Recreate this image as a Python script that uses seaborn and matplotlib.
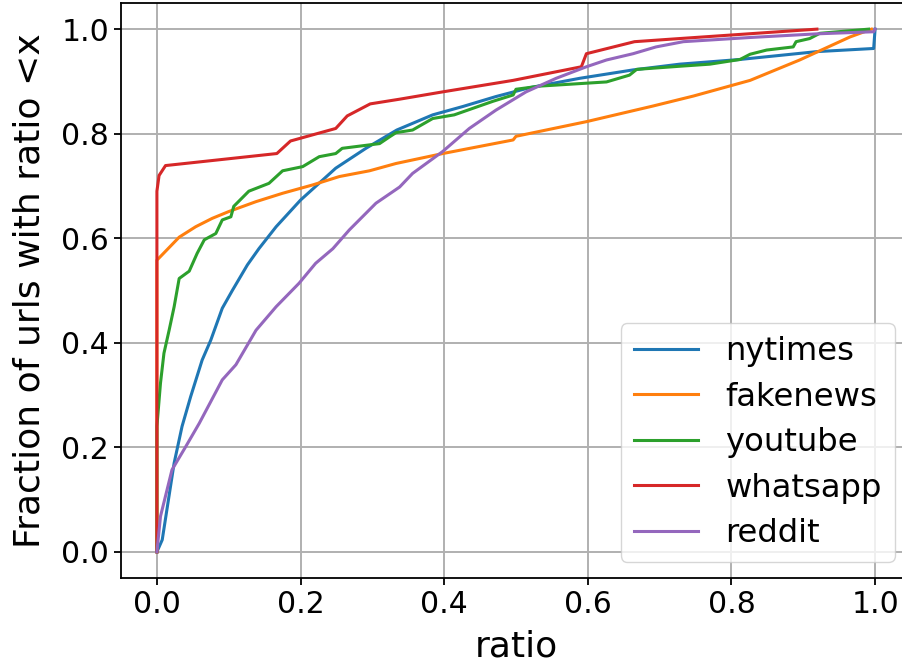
import pandas as pd
import numpy as np
import matplotlib
matplotlib.use("Agg")
import matplotlib.pyplot as plt
import seaborn as sns

# CDF points
nytimes_x = [0.0, 0.0074, 0.024, 0.035, 0.047, 0.063, 0.075, 0.091, 0.105, 0.126, 0.142,
             0.166, 0.200, 0.249, 0.291, 0.334, 0.384, 0.426, 0.472, 0.519, 0.589, 0.663,
             0.728, 0.812, 0.919, 0.998, 1.0]
nytimes_y = [0.0, 0.023, 0.170, 0.240, 0.297, 0.367, 0.405, 0.466, 0.500, 0.549, 0.580,
             0.622, 0.673, 0.734, 0.772, 0.807, 0.836, 0.852, 0.871, 0.888, 0.906, 0.922,
             0.933, 0.942, 0.957, 0.963, 1.0]

fakenews_x = [0.0, 0.0, 0.031, 0.054, 0.077, 0.100, 0.138, 0.175, 0.217, 0.254, 0.296, 0.333,
              0.398, 0.496, 0.500, 0.598, 0.691, 0.747, 0.826, 0.895, 0.965, 0.995]
fakenews_y = [0.0, 0.558, 0.602, 0.622, 0.638, 0.651, 0.670, 0.686, 0.702, 0.718, 0.729, 0.743,
              0.762, 0.788, 0.795, 0.823, 0.853, 0.872, 0.902, 0.941, 0.985, 1.0]

youtube_x = [0.0, 0.0, 0.005, 0.0098, 0.017, 0.024, 0.031, 0.045, 0.056, 0.066, 0.082, 0.091,
             0.103, 0.107, 0.128, 0.156, 0.175, 0.203, 0.226, 0.249, 0.258, 0.310, 0.324,
             0.333, 0.356, 0.384, 0.414, 0.468, 0.496, 0.500, 0.533, 0.626, 0.658, 0.668,
             0.728, 0.770, 0.812, 0.826, 0.849, 0.886, 0.890, 0.909, 0.923, 0.991]
youtube_y = [0.0, 0.240, 0.323, 0.380, 0.424, 0.469, 0.523, 0.537, 0.571, 0.597, 0.609, 0.635,
             0.641, 0.661, 0.690, 0.705, 0.729, 0.737, 0.756, 0.762, 0.772, 0.781, 0.794,
             0.802, 0.807, 0.829, 0.836, 0.862, 0.874, 0.885, 0.891, 0.899, 0.912, 0.923,
             0.929, 0.933, 0.942, 0.952, 0.960, 0.966, 0.976, 0.982, 0.992, 1.0]

whatsapp_x = [0.0, 0.0, 0.003, 0.012, 0.167, 0.186, 0.249, 0.265, 0.297, 0.338, 0.398, 0.496,
              0.591, 0.598, 0.665, 0.728, 0.919]
whatsapp_y = [0.0, 0.690, 0.720, 0.739, 0.762, 0.786, 0.810, 0.834, 0.857, 0.866, 0.880, 0.902,
              0.928, 0.953, 0.976, 0.982, 1.0]

reddit_x = [0.0, 0.005, 0.021, 0.040, 0.059, 0.091, 0.110, 0.138, 0.166, 0.198, 0.221, 0.245,
            0.268, 0.305, 0.338, 0.356, 0.398, 0.435, 0.472, 0.514, 0.556, 0.598, 0.626,
            0.663, 0.695, 0.733, 0.826, 0.919, 0.998, 1.0]
reddit_y = [0.0, 0.068, 0.157, 0.201, 0.246, 0.329, 0.358, 0.424, 0.469, 0.514, 0.552, 0.580,
            0.616, 0.667, 0.698, 0.724, 0.766, 0.810, 0.845, 0.880, 0.906, 0.928, 0.941,
            0.953, 0.966, 0.976, 0.984, 0.991, 0.995, 1.0]

sources = ["nytimes", "fakenews", "youtube", "whatsapp", "reddit"]
series = {
    "nytimes": (nytimes_x, nytimes_y),
    "fakenews": (fakenews_x, fakenews_y),
    "youtube": (youtube_x, youtube_y),
    "whatsapp": (whatsapp_x, whatsapp_y),
    "reddit": (reddit_x, reddit_y),
}

colors = sns.color_palette("tab10", len(sources))

fig = plt.figure(figsize=(9.02, 6.66), dpi=100)
ax = fig.add_axes([121 / 902, 88 / 666, 790 / 902, 575 / 666])

for name, color in zip(sources, colors):
    xs, ys = series[name]
    sns.lineplot(x=xs, y=ys, sort=False, estimator=None, color=color,
                 linewidth=2.2, label=name, ax=ax)

ax.set_xlim(-0.05, 1.05)
ax.set_ylim(-0.05, 1.05)
ax.set_xticks(np.arange(0, 1.01, 0.2))
ax.set_yticks(np.arange(0, 1.01, 0.2))
ax.grid(True, color="#b0b0b0", linewidth=1.4)
ax.set_axisbelow(True)
ax.tick_params(labelsize=21.5, width=1.3, length=5)
for sp in ax.spines.values():
    sp.set_linewidth(1.3)
ax.set_xlabel("ratio", fontsize=26, labelpad=8)
ax.set_ylabel("Fraction of urls with ratio <x", fontsize=26, labelpad=11)

h, l = ax.get_legend_handles_labels()
ax.legend(h, l, loc="lower right", fontsize=23.2, handletextpad=0.85, labelspacing=0.45)

fig.savefig("out.png", dpi=100)
